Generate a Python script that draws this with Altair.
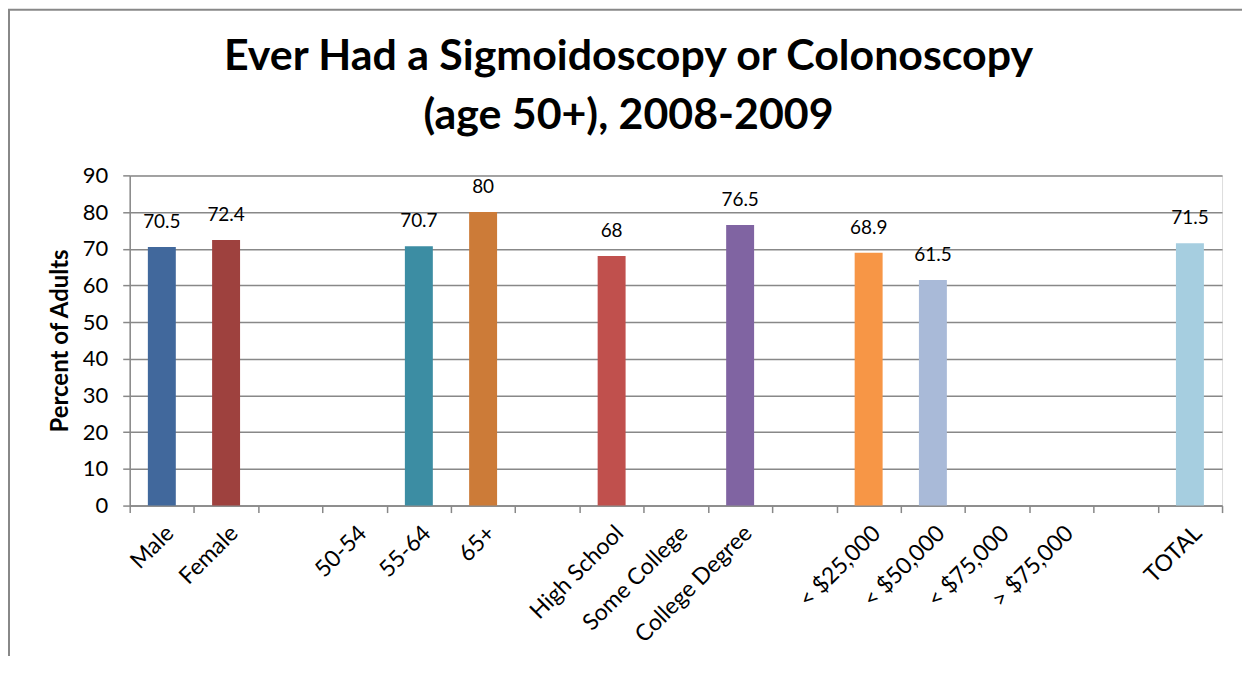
import altair as alt
import pandas as pd

title_lines = ["Ever Had a Sigmoidoscopy or Colonoscopy", "(age 50+), 2008-2009"]
categories = ["Male", "Female", " ", "50-54", "55-64", "65+", "  ", "High School",
              "Some College", "College Degree", "   ", "< $25,000", "< $50,000",
              "< $75,000", "> $75,000", "    ", "TOTAL"]
values = [70.5, 72.4, None, None, 70.7, 80, None, 68, None, 76.5, None, 68.9, 61.5,
          None, None, None, 71.5]
palette = ["#41689C", "#9E413E", "#FFFFFF", "#FFFFFF", "#3C8DA3", "#CC7B38", "#FFFFFF",
           "#C0504D", "#FFFFFF", "#8064A2", "#FFFFFF", "#F79646", "#A9BAD8", "#FFFFFF",
           "#FFFFFF", "#FFFFFF", "#A6CEE0"]
y_ticks = [0, 10, 20, 30, 40, 50, 60, 70, 80, 90]

df = pd.DataFrame({"cat": categories, "val": values}).dropna()

FONT = "Lato"
GRAY = "#888888"

x = alt.X("cat:N", sort=categories,
          scale=alt.Scale(domain=categories, paddingInner=0, paddingOuter=0),
          axis=alt.Axis(title=None, labelAngle=-45, labelAlign="right",
                        labelBaseline="top", labelPadding=9, labelFont=FONT,
                        labelFontSize=23, labelColor="#000000", tickBand="extent",
                        tickSize=7, tickColor=GRAY, domainColor=GRAY, domainWidth=1.5,
                        tickWidth=1.5, labelOverlap=False, labelLimit=400))
y = alt.Y("val:Q",
          scale=alt.Scale(domain=[0, 90], nice=False),
          axis=alt.Axis(title="Percent of Adults", values=y_ticks,
                        titleFont=FONT, titleFontSize=24, titleFontWeight="bold",
                        titleColor="#000000", titlePadding=10,
                        labelFont=FONT, labelFontSize=22, labelColor="#000000",
                        labelPadding=15, tickSize=7, tickColor=GRAY, tickWidth=1.5,
                        domainColor=GRAY, domainWidth=1.5, labelOverlap=False,
                        grid=True, gridColor=GRAY, gridWidth=1.5))

base = alt.Chart(df)

bars = base.mark_bar(width=alt.RelativeBandSize(0.435)).encode(
    x=x, y=y,
    color=alt.Color("cat:N", scale=alt.Scale(domain=categories, range=palette), legend=None),
)

labels = base.mark_text(font=FONT, fontSize=19, color="#000000", dy=-25,
                        baseline="middle").encode(
    x=x, y=y,
    text=alt.Text("val:Q", format="~g"),
)

one = pd.DataFrame({"k": [0]})
title = alt.Chart(one).mark_text(text=title_lines, font=FONT, fontSize=43,
                                 fontWeight="bold", color="#000000", align="center",
                                 baseline="alphabetic", lineHeight=60).encode(
    x=alt.value(500), y=alt.value(-106))

left_border = alt.Chart(one).mark_rule(color=GRAY, strokeWidth=2).encode(
    x=alt.value(-121), y=alt.value(-166), y2=alt.value(510))
top_border = alt.Chart(one).mark_rule(color=GRAY, strokeWidth=2).encode(
    x=alt.value(-122), x2=alt.value(1125), y=alt.value(-166))

chart = alt.layer(bars, labels, title, left_border, top_border).properties(
    width=1095, height=331,
    autosize=alt.AutoSizeParams(type="none"),
    padding={"left": 122, "top": 167, "right": 20, "bottom": 150},
).configure_view(stroke=None).configure(background="#FFFFFF")

chart.save("out.html", embed_options={"renderer": "svg", "actions": False})
